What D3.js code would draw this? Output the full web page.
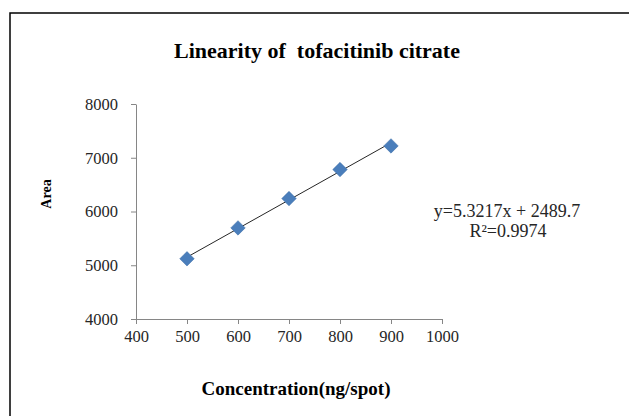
<!DOCTYPE html>
<html>
<head>
<meta charset="utf-8">
<script src="https://cdn.jsdelivr.net/npm/d3@7"></script>
<style>
  body { margin: 0; background: #fff; }
  text { font-family: "Liberation Serif", "Times New Roman", serif; }
</style>
</head>
<body>
<div id="chart"></div>
<script>
const width = 629
const height = 416
const margins = { top: 104, right: 187, bottom: 97, left: 136 }

// data
const concentration = [500, 600, 700, 800, 900]
const area = [5120, 5695, 6240, 6780, 7220]
const slope = 5.3217
const intercept = 2489.7
const xTicks = [400, 500, 600, 700, 800, 900, 1000]
const yTicks = [4000, 5000, 6000, 7000, 8000]
const titleText = "Linearity of  tofacitinib citrate"
const xLabel = "Concentration(ng/spot)"
const yLabel = "Area"
const equationText = "y=5.3217x + 2489.7"
const r2Text = "R²=0.9974"

const svg = d3.select("#chart").append("svg")
    .attr("width", width)
    .attr("height", height)

svg.append("rect")
    .attr("x", 10).attr("y", 13)
    .attr("width", width + 10).attr("height", height + 10)
    .attr("fill", "none")
    .attr("stroke", "#000")
    .attr("stroke-width", 1.5)

const x = d3.scaleLinear().domain([400, 1000]).range([margins.left, width - margins.right])
const y = d3.scaleLinear().domain([4000, 8000]).range([height - margins.bottom, margins.top])

const xAxis = svg.append("g")
    .attr("transform", `translate(0,${height - margins.bottom})`)
    .call(d3.axisBottom(x).tickValues(xTicks).tickFormat(d3.format("d")).tickSize(5).tickSizeOuter(0).tickPadding(6))
const yAxis = svg.append("g")
    .attr("transform", `translate(${margins.left},0)`)
    .call(d3.axisLeft(y).tickValues(yTicks).tickFormat(d3.format("d")).tickSize(5).tickSizeOuter(0).tickPadding(13))

for (const ax of [xAxis, yAxis]) {
    ax.selectAll("path, line").attr("stroke", "#868686")
    ax.selectAll("text")
        .attr("fill", "#262626")
        .style("font-size", "16.5px")
        .style("font-family", "'Liberation Serif', serif")
}

// trendline
svg.append("line")
    .attr("x1", x(500)).attr("y1", y(slope * 500 + intercept))
    .attr("x2", x(900)).attr("y2", y(slope * 900 + intercept))
    .attr("stroke", "#262626")
    .attr("stroke-width", 1)

const points = concentration.map((c, i) => ({ c: c, a: area[i] }))
svg.selectAll(".pt")
    .data(points)
    .enter()
    .append("path")
    .attr("class", "pt")
    .attr("d", d3.symbol().type(d3.symbolSquare).size(105))
    .attr("transform", d => `translate(${x(d.c)},${y(d.a)}) rotate(45)`)
    .attr("fill", "#4a7ebb")
    .attr("stroke", "#3c6ea8")
    .attr("stroke-width", 0.5)

svg.append("text")
    .text(titleText)
    .attr("x", 317).attr("y", 58)
    .attr("text-anchor", "middle")
    .style("font-weight", "bold")
    .style("font-size", "22px")
    .style("white-space", "pre")

svg.append("text")
    .text(xLabel)
    .attr("x", 296).attr("y", 395)
    .attr("text-anchor", "middle")
    .style("font-weight", "bold")
    .style("font-size", "19px")

svg.append("text")
    .text(yLabel)
    .attr("transform", "translate(51,194) rotate(-90)")
    .attr("text-anchor", "middle")
    .style("font-weight", "bold")
    .style("font-size", "14px")

svg.append("text")
    .text(equationText)
    .attr("x", 507).attr("y", 217)
    .attr("text-anchor", "middle")
    .attr("fill", "#262626")
    .style("font-size", "18px")
svg.append("text")
    .text(r2Text)
    .attr("x", 508).attr("y", 237)
    .attr("text-anchor", "middle")
    .attr("fill", "#262626")
    .style("font-size", "18px")
</script>
</body>
</html>
